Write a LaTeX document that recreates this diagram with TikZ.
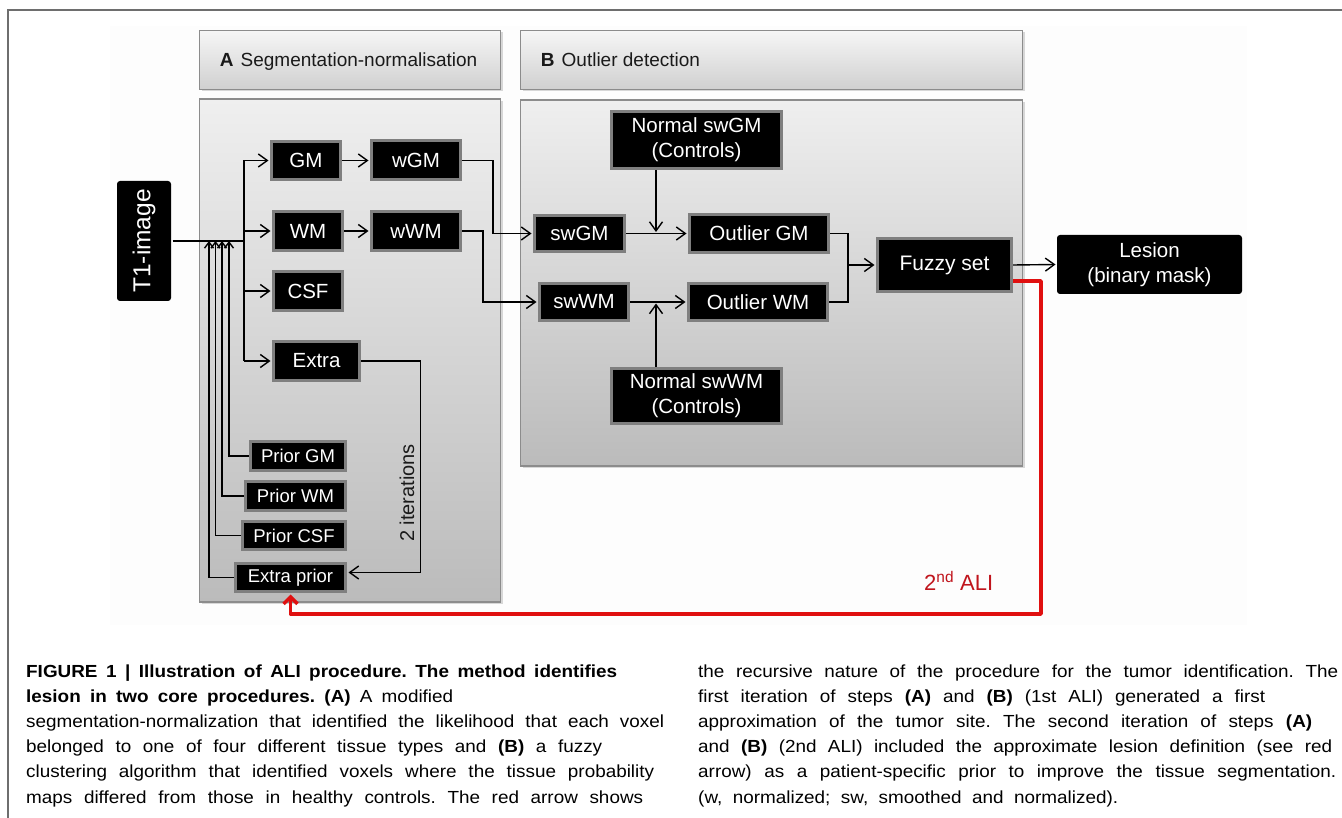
\documentclass[tikz,border=0pt]{standalone}
\usepackage{fontspec}
\setmainfont{Liberation Sans}
\newfontfamily\capfont{Liberation Sans}[FakeStretch=1.08]
\usetikzlibrary{arrows.meta,shadows,calc}
\definecolor{boxborder}{HTML}{7F7F7F}
\definecolor{panelborder}{HTML}{8C8C8C}
\definecolor{framegray}{HTML}{6E6E6E}
\definecolor{alired}{HTML}{E01010}
\definecolor{alitext}{HTML}{C0141C}
\definecolor{captext}{HTML}{1A1A1A}
\definecolor{captionink}{HTML}{000000}
\definecolor{hdtop}{HTML}{F6F6F6}
\definecolor{hdbot}{HTML}{D0D0D0}
\definecolor{pntop}{HTML}{EFEFEF}
\definecolor{pnbot}{HTML}{BBBBBB}
\definecolor{faintbg}{HTML}{FDFDFD}
\newcommand{\fsz}[2]{\fontsize{#1}{#2}\selectfont}
\frenchspacing
\tikzset{
  blk/.style={draw=boxborder, line width=3pt, fill=black, text=white, inner sep=0pt,
              font=\fsz{20.5}{25}, align=center},
  pri/.style={blk, font=\fsz{18.5}{21}},
  conn/.style={line width=1.4pt, draw=black},
  arr/.style={conn, shorten >=1.5pt, -{Straight Barb[length=9pt,width=13pt]}},
  sarr/.style={conn, -{Straight Barb[length=6pt,width=9pt]}},
  redarr/.style={draw=alired, line width=3.5pt, line join=round, shorten >=1.5pt,
                 -{Straight Barb[length=7pt,width=14pt]}},
  header/.style={draw=panelborder, line width=1.5pt, top color=hdtop, bottom color=hdbot,
                 drop shadow={shadow xshift=2pt, shadow yshift=-2pt, opacity=0.3},
                 inner sep=0pt, minimum height=59pt},
  hdtxt/.style={anchor=base west, inner sep=0pt, text=captext, font=\fsz{19}{22}},
  panel/.style={draw=panelborder, line width=1.5pt, top color=pntop, bottom color=pnbot,
                drop shadow={shadow xshift=2pt, shadow yshift=-2pt, opacity=0.3},
                inner sep=0pt},
  captxt/.style={anchor=base west, inner sep=0pt, text=captionink, font=\capfont\fsz{17.5}{20}\frenchspacing},
}
\begin{document}
\begin{tikzpicture}[x=1pt,y=-1pt]
\useasboundingbox (0,0) rectangle (1342,818);
\fill[white] (0,0) rectangle (1342,818);
\fill[faintbg] (110,26) rectangle (1247,625);
% frame
\draw[framegray, line width=2pt] (8,818) -- (8,10) -- (1342,10);

% headers and panels
\node[header, minimum width=301pt] (hdA) at (350,60) {};
\node[hdtxt] (hdAt) at ([xshift=21pt,yshift=-7pt]hdA.west) {\textbf{A}\hspace{7pt}Segmentation-normalisation};
\node[header, minimum width=502pt] (hdB) at (771.5,60) {};
\node[hdtxt] (hdBt) at ([xshift=21pt,yshift=-7pt]hdB.west) {\textbf{B}\hspace{7pt}Outlier detection};
\node[panel, minimum width=301pt, minimum height=503pt] (panA) at (350,350.5) {};
\node[panel, minimum width=502pt, minimum height=366pt] (panB) at (771.5,283) {};

% input
\node[blk, draw=none, rounded corners=3pt, rotate=90, minimum width=120pt, minimum height=54pt,
      font=\fsz{24.5}{28}] (t1) at (144,241) {T1-image};

% segmentation boxes
\node[blk, minimum width=69pt, minimum height=38pt] (gm) at (306,160.5) {GM};
\node[blk, minimum width=89pt, minimum height=39pt] (wgm) at (416,160.5) {wGM};
\node[blk, minimum width=69pt, minimum height=39pt] (wm) at (308,231) {WM};
\node[blk, minimum width=89pt, minimum height=39pt] (wwm) at (416,231) {wWM};
\node[blk, minimum width=69pt, minimum height=39pt] (csf) at (308,291) {CSF};
\node[blk, minimum width=86pt, minimum height=39pt] (ex) at (316.5,361) {Extra};

% priors
\node[pri, minimum width=95pt, minimum height=29pt] (pgm) at (298,456) {Prior GM};
\node[pri, minimum width=100pt, minimum height=29pt] (pwm) at (295.5,496) {Prior WM};
\node[pri, minimum width=103pt, minimum height=28pt] (pcsf) at (294,535.5) {Prior CSF};
\node[pri, minimum width=110pt, minimum height=28pt] (ep) at (290.5,577.5) {Extra prior};

% outlier detection
\node[blk, minimum width=90pt, minimum height=36pt] (swgm) at (579.5,233.5) {swGM};
\node[blk, minimum width=89pt, minimum height=37pt] (swwm) at (584,302) {swWM};
\node[blk, minimum width=170pt, minimum height=57pt] (nsg) at (696.5,140) {Normal swGM\\(Controls)};
\node[blk, minimum width=139pt, minimum height=38pt] (og) at (759,233.5) {Outlier GM};
\node[blk, minimum width=139pt, minimum height=37pt] (ow) at (758,302) {Outlier WM};
\node[blk, minimum width=170pt, minimum height=55pt] (nsw) at (696.5,396) {Normal swWM\\(Controls)};
\node[blk, minimum width=134pt, minimum height=53pt, font=\fsz{21}{25}] (fz) at (944.5,265) {Fuzzy set};
\node[blk, draw=none, rounded corners=3pt, minimum width=185pt, minimum height=59pt] (ls) at (1149.5,264.5) {Lesion\\(binary mask)};

% junction coordinates
\coordinate (trunk) at (244,241);
\coordinate (q1) at (229,241);
\coordinate (q2) at (222,241);
\coordinate (q3) at (215.5,241);
\coordinate (q4) at (209,241);
\coordinate (jg) at (656,233.5);
\coordinate (jw) at (656,302);
\coordinate (mg) at (848,265);

% connectors, segmentation
\draw[conn] (t1.south) -- (trunk);
\draw[conn] (trunk |- gm.west) -- (trunk |- ex.west);
\draw[arr] (trunk |- gm.west) -- (gm.west);
\draw[arr] (trunk |- wm.west) -- (wm.west);
\draw[arr] (trunk |- csf.west) -- (csf.west);
\draw[arr] (trunk |- ex.west) -- (ex.west);
\draw[arr] (gm.east) -- (wgm.west);
\draw[arr] (wm.east) -- (wwm.west);
\draw[sarr] (pgm.west) -| (q1);
\draw[sarr] (pwm.west) -| (q2);
\draw[sarr] (pcsf.west) -| (q3);
\draw[sarr] (ep.west) -| (q4);
\draw[arr] (ex.east) -- ++(59.5,0) |- ([yshift=5pt]ep.east);
\node[rotate=90, inner sep=0pt, text=captext, font=\fsz{20}{23}] (it) at (407,493) {2 iterations};

% connectors, outlier detection
\draw[arr] (wgm.east) -- ++(31,0) |- (swgm.west);
\draw[arr] (wwm.east) -- ++(21,0) |- (swwm.west);
\draw[arr] (swgm.east) -- (og.west);
\draw[arr] (swwm.east) -- (ow.west);
\draw[arr] (nsg.south -| jg) -- (jg);
\draw[arr] (nsw.north -| jw) -- (jw);
\draw[conn] (og.east) -| (mg);
\draw[conn] (ow.east) -| (mg);
\draw[arr] (mg) -- (fz.west);
\draw[arr, shorten >=0pt] (fz.east) -- (ls.west);

% red feedback
\draw[redarr] ([yshift=-16pt]fz.east) -- ++(28,0) -- ++(0,333) -| (ep.south);
\node[anchor=base west, inner sep=0pt, text=alitext, font=\fsz{22}{26}] (ali) at (924,590) {2\textsuperscript{nd} ALI};

% caption, left column
\node[captxt] (c1) at (26,677) {\makebox[591pt][s]{\bfseries FIGURE 1 | Illustration of ALI procedure. The method identifies}};
\node[captxt] (c2) at (26,702.2) {\makebox[427pt][s]{\bfseries lesion in two core procedures. (A)\mdseries{} A modified}};
\node[captxt] (c3) at (26,727.4) {\makebox[638pt][s]{segmentation-normalization that identified the likelihood that each voxel}};
\node[captxt] (c4) at (26,752.6) {\makebox[576pt][s]{belonged to one of four different tissue types and \textbf{(B)} a fuzzy}};
\node[captxt] (c5) at (26,777.8) {\makebox[628pt][s]{clustering algorithm that identified voxels where the tissue probability}};
\node[captxt] (c6) at (26,803) {\makebox[617pt][s]{maps differed from those in healthy controls. The red arrow shows}};
% caption, right column
\node[captxt] (c7) at (698,677) {\makebox[640pt][s]{the recursive nature of the procedure for the tumor identification. The}};
\node[captxt] (c8) at (698,702.2) {\makebox[567pt][s]{first iteration of steps \textbf{(A)} and \textbf{(B)} (1st ALI) generated a first}};
\node[captxt] (c9) at (698,727.4) {\makebox[614pt][s]{approximation of the tumor site. The second iteration of steps \textbf{(A)}}};
\node[captxt] (c10) at (698,752.6) {\makebox[634pt][s]{and \textbf{(B)} (2nd ALI) included the approximate lesion definition (see red}};
\node[captxt] (c11) at (698,777.8) {\makebox[638pt][s]{arrow) as a patient-specific prior to improve the tissue segmentation.}};
\node[captxt] (c12) at (698,803) {\makebox[420pt][s]{(w, normalized; sw, smoothed and normalized).}};
\end{tikzpicture}
\end{document}
